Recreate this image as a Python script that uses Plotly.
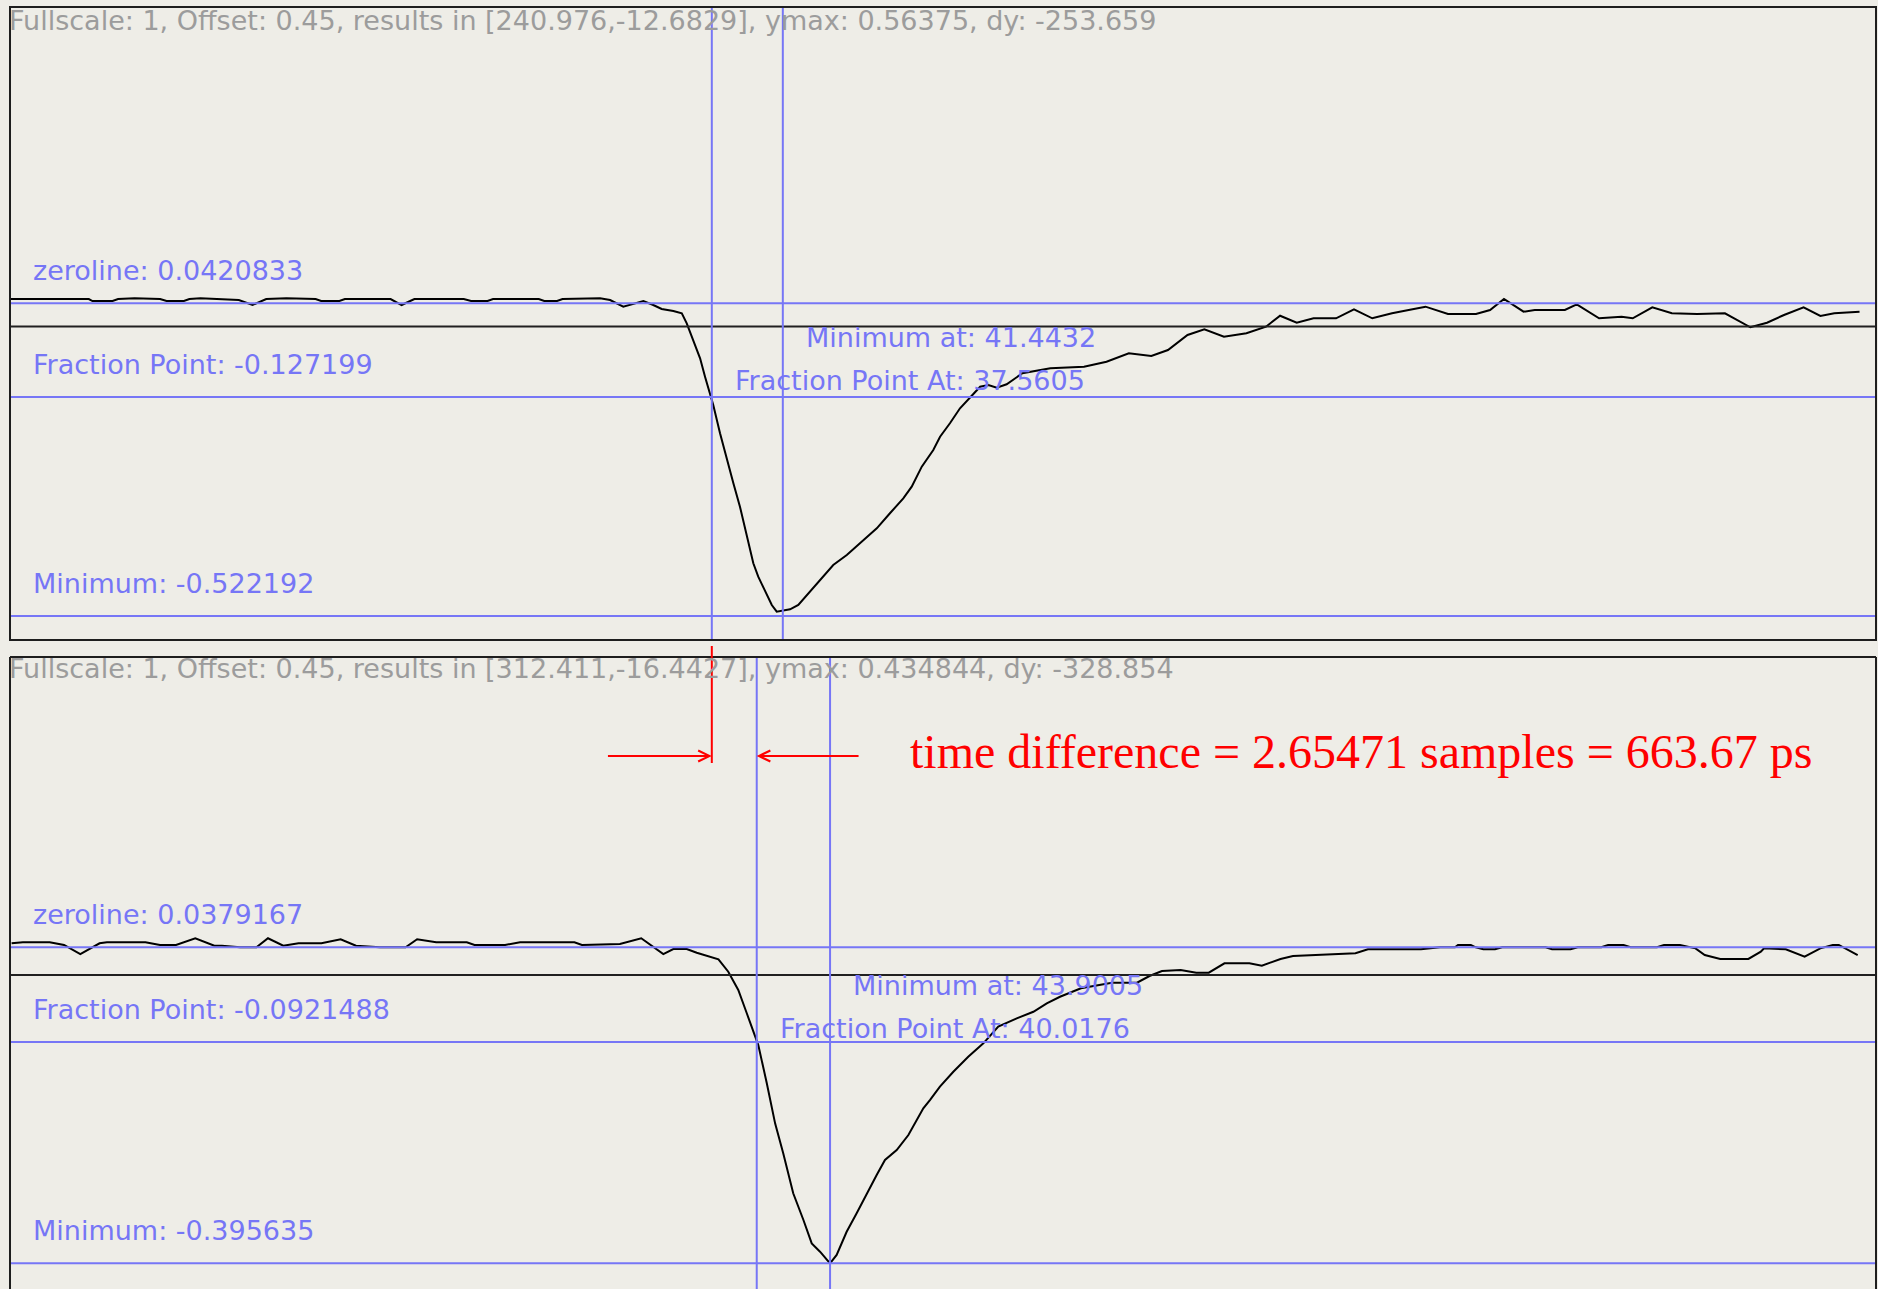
import plotly.graph_objects as go

# ---------------- channel 1 (upper panel) ----------------
ch1_t = [-1.0, 3.5, 3.7, 4.8, 5.1, 6.0, 7.4, 7.75, 8.7, 9.0, 9.6, 10.6, 11.2, 11.7, 12.45,
         13.2, 14.3, 15.9, 16.2, 17.2, 17.5, 20.0, 20.6, 21.3, 24.0, 24.4, 25.3, 25.6, 28.1,
         28.4, 29.1, 29.4, 31.45, 32.0, 32.72, 33.27, 33.82, 34.36, 34.82, 35.46, 35.92,
         36.19, 36.55, 36.92, 37.19, 37.46, 37.64, 38.01, 38.38, 38.74, 39.10, 39.47, 39.83,
         40.10, 40.56, 40.84, 41.11, 41.84, 42.29, 42.93, 43.62, 44.20, 44.94, 45.66, 46.58,
         47.30, 48.03, 48.49, 49.04, 49.67, 50.04, 50.58, 51.13, 51.86, 52.23, 52.68, 53.14,
         53.68, 54.54, 56.07, 57.91, 59.14, 60.36, 61.59, 62.50, 63.57, 64.49, 65.56, 66.79,
         67.86, 68.63, 69.54, 70.46, 71.69, 72.67, 73.67, 74.75, 75.66, 76.58, 77.81, 79.34,
         80.11, 80.87, 81.94, 82.55, 84.2, 84.85, 86.07, 87.30, 87.91, 88.98, 90.05, 91.43,
         92.95, 93.42, 94.34, 95.25, 96.18, 97.25, 98.17, 98.93, 100.31]
ch1_v = [0.0498, 0.0498, 0.0462, 0.0462, 0.0498, 0.0511, 0.0498, 0.0462, 0.0462, 0.0498,
         0.0511, 0.0498, 0.0480, 0.0480, 0.0390, 0.0498, 0.0511, 0.0498, 0.0462, 0.0462,
         0.0498, 0.0498, 0.0390, 0.0498, 0.0498, 0.0462, 0.0462, 0.0498, 0.0498, 0.0462,
         0.0462, 0.0498, 0.0511, 0.0480, 0.0359, 0.0408, 0.0462, 0.0390, 0.0318, 0.0282,
         0.0240, 0.0060, -0.0241, -0.0571, -0.0903, -0.1234, -0.1414, -0.1925, -0.2407,
         -0.2827, -0.3249, -0.3791, -0.4271, -0.4512, -0.4843, -0.5023, -0.5144, -0.5101,
         -0.5023, -0.4783, -0.4512, -0.4301, -0.4121, -0.3910, -0.3639, -0.3368, -0.3098,
         -0.2888, -0.2527, -0.2226, -0.1986, -0.1744, -0.1474, -0.1216, -0.1084, -0.1053,
         -0.1102, -0.1041, -0.0842, -0.0752, -0.0723, -0.0633, -0.0481, -0.0530, -0.0422,
         -0.0151, -0.0048, -0.0182, -0.0120, -0.0001, 0.0197, 0.0071, 0.0150, 0.0150,
         0.0313, 0.0150, 0.0240, 0.0300, 0.0360, 0.0228, 0.0228, 0.0300, 0.0498, 0.0269,
         0.0300, 0.0300, 0.0403, 0.0150, 0.0179, 0.0150, 0.0349, 0.0240, 0.0228, 0.0240,
         0.0150, -0.0012, 0.0071, 0.0210, 0.0349, 0.0192, 0.0240, 0.0269]

ch1_zero = 0.0420833
ch1_frac = -0.127199
ch1_min = -0.522192
ch1_min_at = 41.4432
ch1_frac_at = 37.5605
ch1_info = dict(fullscale=1, offset=0.45, res=(240.976, -12.6829), ymax=0.56375, dy=-253.659)

# ---------------- channel 2 (lower panel) ----------------
ch2_t = [0.55, 1.15, 2.57, 3.33, 4.19, 5.21, 5.60, 7.64, 8.41, 9.26, 10.28, 11.29, 11.69,
         12.65, 13.52, 14.13, 14.94, 15.75, 16.96, 17.98, 18.79, 20.06, 21.42, 22.03, 23.04,
         24.66, 25.07, 26.69, 27.48, 28.31, 30.36, 30.76, 31.96, 32.77, 33.90, 35.07, 35.60,
         36.31, 36.84, 37.37, 37.99, 38.51, 39.04, 39.49, 39.93, 40.10, 40.55, 40.99, 41.42,
         41.95, 42.49, 42.93, 43.37, 43.90, 44.25, 44.78, 45.31, 45.84, 46.37, 46.81, 47.43,
         48.05, 48.40, 48.84, 49.19, 49.72, 50.43, 51.22, 52.02, 52.81, 53.79, 54.67, 55.38,
         56.08, 57.19, 58.83, 60.16, 60.82, 61.48, 62.47, 63.30, 63.96, 64.79, 66.11, 66.77,
         67.76, 68.42, 70.40, 71.73, 72.39, 75.20, 76.21, 77.00, 77.16, 77.84, 78.10, 78.50,
         79.12, 79.50, 81.80, 82.14, 83.12, 83.50, 84.75, 85.11, 85.93, 86.30, 87.70, 88.07,
         88.92, 89.74, 90.23, 91.05, 92.54, 93.20, 93.37, 94.03, 94.52, 95.52, 96.35, 97.01,
         97.33, 98.33]
ch2_v = [0.0434, 0.0448, 0.0448, 0.0411, 0.0287, 0.0434, 0.0448, 0.0448, 0.0411, 0.0411,
         0.0503, 0.0401, 0.0401, 0.0379, 0.0379, 0.0503, 0.0401, 0.0434, 0.0434, 0.0489,
         0.0401, 0.0379, 0.0379, 0.0489, 0.0448, 0.0448, 0.0411, 0.0411, 0.0448, 0.0448,
         0.0448, 0.0411, 0.0424, 0.0424, 0.0503, 0.0287, 0.0356, 0.0356, 0.0305, 0.0260,
         0.0215, 0.0044, -0.0207, -0.0526, -0.0824, -0.0962, -0.1487, -0.2036, -0.2447,
         -0.2996, -0.3362, -0.3682, -0.3797, -0.395635, -0.3842, -0.3523, -0.3270, -0.2996,
         -0.2745, -0.2539, -0.2402, -0.2196, -0.2036, -0.1830, -0.1716, -0.1533, -0.1328,
         -0.1122, -0.0938, -0.0710, -0.0595, -0.0505, -0.0389, -0.0299, -0.0183, -0.0107,
         -0.0107, -0.0015, 0.0054, 0.0068, 0.0031, 0.0031, 0.0160, 0.0160, 0.0127, 0.0219,
         0.0260, 0.0283, 0.0297, 0.0352, 0.0352, 0.0379, 0.0379, 0.0411, 0.0411, 0.0379,
         0.0352, 0.0352, 0.0379, 0.0379, 0.0352, 0.0352, 0.0379, 0.0379, 0.0411, 0.0411,
         0.0379, 0.0379, 0.0411, 0.0411, 0.0365, 0.0273, 0.0219, 0.0219, 0.0319, 0.0365,
         0.0352, 0.0352, 0.0250, 0.0365, 0.0411, 0.0411, 0.0273]

ch2_zero = 0.0379167
ch2_frac = -0.0921488
ch2_min = -0.395635
ch2_min_at = 43.9005
ch2_frac_at = 40.0176
ch2_info = dict(fullscale=1, offset=0.45, res=(312.411, -16.4427), ymax=0.434844, dy=-328.854)

time_diff_samples = 2.65471
time_diff_ps = 663.67

# ---------------- styling ----------------
W, H = 1878, 1289
BG = "#EEEDE7"
BLUE = "#7676F6"
GREY = "#9C9C9C"
FRAME = "#1E1E1E"
LABEL_FONT = dict(family="DejaVu Sans", size=27, color=BLUE)
HEAD_FONT = dict(family="DejaVu Sans", size=27, color=GREY)

# panel placement in pixels
PX_L, PX_R = 10, 1876
TOP_Y0, TOP_Y1 = 7, 640
BOT_Y0 = 657


def header(info):
    r0, r1 = info["res"]
    return (f"Fullscale: {info['fullscale']}, Offset: {info['offset']}, "
            f"results in [{r0},{r1}], ymax: {info['ymax']}, dy: {info['dy']}")


fig = go.Figure()
fig.add_trace(go.Scatter(x=ch1_t, y=ch1_v, mode="lines", xaxis="x", yaxis="y",
                         line=dict(color="black", width=2), hoverinfo="skip",
                         showlegend=False))
fig.add_trace(go.Scatter(x=ch2_t, y=ch2_v, mode="lines", xaxis="x2", yaxis="y2",
                         line=dict(color="black", width=2), hoverinfo="skip",
                         showlegend=False))

hidden = dict(visible=False, showgrid=False, zeroline=False)
fig.update_layout(
    width=W, height=H,
    margin=dict(l=0, r=0, t=0, b=0),
    paper_bgcolor=BG, plot_bgcolor=BG,
    showlegend=False,
    xaxis=dict(domain=[PX_L / W, PX_R / W], range=[-0.809, 101.21], **hidden),
    yaxis=dict(domain=[1 - TOP_Y1 / H, 1 - TOP_Y0 / H], range=[-0.56546, 0.57673], **hidden),
    xaxis2=dict(domain=[PX_L / W, PX_R / W], range=[0.466, 99.30], anchor="y2", **hidden),
    yaxis2=dict(domain=[0, 1 - BOT_Y0 / H], range=[-0.43086, 0.43618], anchor="x2", **hidden),
)

shapes = []
annotations = []


def panel(xa, ya, zero, frac, mn, mn_at, fr_at, info, head_dy, full_box):
    xd, yd = f"{xa} domain", f"{ya} domain"
    # reference level (0 V)
    shapes.append(dict(type="line", xref=xd, x0=0, x1=1, yref=ya, y0=0, y1=0,
                       line=dict(color="#202020", width=2)))
    # zeroline / fraction / minimum levels
    for val in (zero, frac, mn):
        shapes.append(dict(type="line", xref=xd, x0=0, x1=1, yref=ya, y0=val, y1=val,
                           line=dict(color=BLUE, width=2)))
    # fraction point and minimum positions
    for pos in (fr_at, mn_at):
        shapes.append(dict(type="line", xref=xa, x0=pos, x1=pos, yref=yd, y0=0, y1=1,
                           line=dict(color=BLUE, width=2)))
    # frame
    if full_box:
        shapes.append(dict(type="rect", xref=xd, x0=0, x1=1, yref=yd, y0=0, y1=1,
                           line=dict(color=FRAME, width=2)))
    else:
        for seg in ((0, 1, 1, 1), (0, 0, 0, 1), (1, 1, 0, 1)):
            shapes.append(dict(type="line", xref=xd, x0=seg[0], x1=seg[1], yref=yd,
                               y0=seg[2], y1=seg[3], line=dict(color=FRAME, width=2)))

    annotations.append(dict(text=header(info), xref=xd, x=0, xshift=-3, xanchor="left",
                            yref=yd, y=1, yshift=-head_dy, yanchor="middle",
                            showarrow=False, font=HEAD_FONT))
    for txt, val in ((f"zeroline: {zero}", zero), (f"Fraction Point: {frac}", frac),
                     (f"Minimum: {mn}", mn)):
        annotations.append(dict(text=txt, xref=xd, x=0, xshift=21, xanchor="left",
                                yref=ya, y=val, yshift=33, yanchor="middle",
                                showarrow=False, font=LABEL_FONT))
    annotations.append(dict(text=f"Minimum at: {mn_at}", xref=xa, x=mn_at, xshift=21,
                            xanchor="left", yref=ya, y=0, yshift=-11, yanchor="middle",
                            showarrow=False, font=LABEL_FONT))
    annotations.append(dict(text=f"Fraction Point At: {fr_at}", xref=xa, x=fr_at,
                            xshift=21, xanchor="left", yref=ya, y=0, yshift=-54,
                            yanchor="middle", showarrow=False, font=LABEL_FONT))


panel("x", "y", ch1_zero, ch1_frac, ch1_min, ch1_min_at, ch1_frac_at, ch1_info, 13, True)
panel("x2", "y2", ch2_zero, ch2_frac, ch2_min, ch2_min_at, ch2_frac_at, ch2_info, 11, False)

# time-difference marker between the two fraction points
RED = "#FF0000"
arrow_y = 1 - 756 / H
shapes.append(dict(type="line", xref="x", x0=ch1_frac_at, x1=ch1_frac_at, yref="paper",
                   y0=1 - 646 / H, y1=1 - 763 / H, line=dict(color=RED, width=2)))
annotations.append(dict(text="", xref="x", x=ch1_frac_at, yref="paper", y=arrow_y,
                        axref="x", ax=31.8, ayref="pixel", ay=0, showarrow=True,
                        arrowhead=5, arrowsize=1.1, arrowwidth=2, arrowcolor=RED,
                        standoff=0))
annotations.append(dict(text="", xref="x2", x=ch2_frac_at, yref="paper", y=arrow_y,
                        axref="x2", ax=45.49, ayref="pixel", ay=0, showarrow=True,
                        arrowhead=5, arrowsize=1.1, arrowwidth=2, arrowcolor=RED,
                        standoff=0))
annotations.append(dict(text=f"time difference = {time_diff_samples} samples = {time_diff_ps} ps",
                        xref="paper", x=908 / W, xanchor="left", yref="paper",
                        y=1 - 751 / H, yanchor="middle", showarrow=False,
                        font=dict(family="Liberation Serif", size=48, color=RED)))

fig.update_layout(shapes=shapes, annotations=annotations)
fig.write_html("out.html")
